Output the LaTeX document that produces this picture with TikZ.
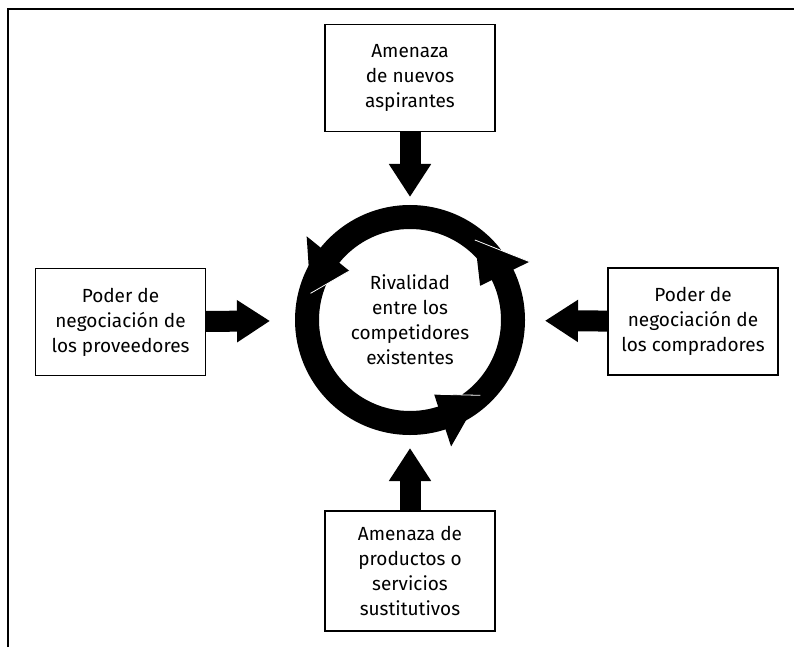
\documentclass[tikz,border=0pt]{standalone}
\usepackage{fontspec}
\setmainfont{Fira Sans}
\usetikzlibrary{arrows.meta}

\begin{document}
\begin{tikzpicture}[x=1pt,y=1pt]
	% formatos
	\tikzstyle{every node}=[font=\fontsize{19}{25}\selectfont, align=center]
	\tikzstyle{caja} = [draw, line width=1.2pt, minimum width=170pt, minimum height=107pt, inner sep=0pt]
	\tikzstyle{flecha} = [line width=21pt, -{Triangle[length=33pt, width=40pt]}]
	% marco
	\useasboundingbox (0,0) rectangle (794,-647);
	\draw [line width=2pt] (8,-647) -- (8,-9) -- (794,-9);
	% nodos
	\node [draw, circle, line width=24pt, minimum size=206pt] (rival) at (410,-320) {Rivalidad\\entre los\\competidores\\existentes};
	\node [caja] (nuevos) at (410,-78) {Amenaza\\de nuevos\\aspirantes};
	\node [caja] (proveedores) at (120.5,-322) {Poder de\\negociación de\\los proveedores};
	\node [caja] (compradores) at (693,-321.5) {Poder de\\negociación de\\los compradores};
	\node [caja, minimum height=120pt] (sustitutos) at (410,-571) {Amenaza de\\productos o\\servicios\\sustitutivos};
	% puntas del anillo
	\foreach \b/\t/\w in {288/313/78, 26/51/133, 141/165/78} {
		\fill (rival.center) +(\b:78) -- +(\b:133) -- +(\t:103) -- cycle;
		\draw [white, line width=0.8pt] (rival.center) +(\t:103) -- +(\b:\w);
	}
	% relaciones
	\draw [flecha, shorten >=8pt] (nuevos) -- (rival);
	\draw [flecha, shorten >=25pt] (proveedores) -- (rival);
	\draw [flecha, shorten >=20pt] (compradores) -- (rival);
	\draw [flecha, shorten >=13pt] (sustitutos) -- (rival);
\end{tikzpicture}
\end{document}
